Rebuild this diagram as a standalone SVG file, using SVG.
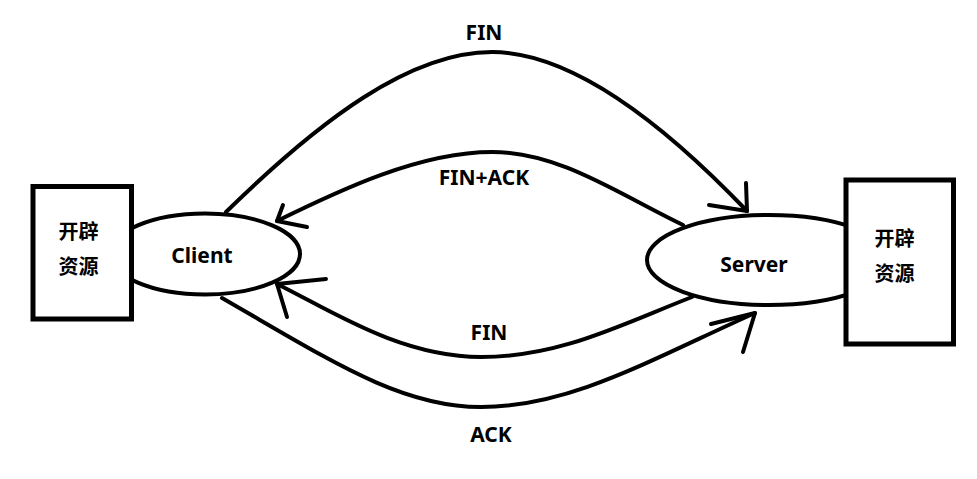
<svg xmlns="http://www.w3.org/2000/svg" width="977" height="479" viewBox="0 0 977 479">
<style>
.ln{fill:none;stroke:#000;stroke-width:4;stroke-linecap:round;stroke-linejoin:round}
.el{fill:#fff;stroke:#000;stroke-width:4}
.bx{fill:#fff;stroke:#000;stroke-width:5}
.t{font-family:"Noto Sans","Noto Sans CJK SC",sans-serif;font-weight:bold;font-size:21px;fill:#000;text-anchor:middle}
.c{font-family:"Noto Sans CJK SC",sans-serif;font-size:20px}
</style>
<rect width="977" height="479" fill="#fff"/>
<g id="client">
<ellipse class="el" cx="205" cy="254" rx="95" ry="40.5"/>
<text class="t" x="202" y="263">Client</text>
</g>
<g id="server">
<ellipse class="el" cx="769" cy="260" rx="122" ry="45"/>
<text class="t" x="754" y="272">Server</text>
</g>
<g id="client-resource">
<rect class="bx" x="33" y="186.5" width="98.5" height="132.5"/>
<text class="t c" x="78.5" y="239">开辟</text>
<text class="t c" x="78.5" y="274">资源</text>
</g>
<g id="server-resource">
<rect class="bx" x="846" y="180" width="107.5" height="164"/>
<text class="t c" x="894.5" y="246">开辟</text>
<text class="t c" x="894.5" y="281">资源</text>
</g>
<g id="connectors">
<path class="ln" d="M226,212 C320,120 410,52 492,52 C570,52 660,120 747,211"/>
<path class="ln" d="M746,183 L747,211 L709,205"/>
<path class="ln" d="M683,225 C620,195 560,152 492,152 C420,152 340,190 277,221"/>
<path class="ln" d="M283,205 L277,221 L307,227"/>
<path class="ln" d="M692,297 C620,325 560,357 481,357 C400,357 330,310 277,284"/>
<path class="ln" d="M326,279 L277,284 L287,317"/>
<path class="ln" d="M222,298 C330,360 400,407 481,407 C570,407 650,360 755,313"/>
<path class="ln" d="M711,324 L755,313 L743,352"/>
</g>
<g id="labels">
<text class="t" x="484" y="40">FIN</text>
<text class="t" x="484" y="185">FIN+ACK</text>
<text class="t" x="489" y="340">FIN</text>
<text class="t" x="491" y="442">ACK</text>
</g>
</svg>
